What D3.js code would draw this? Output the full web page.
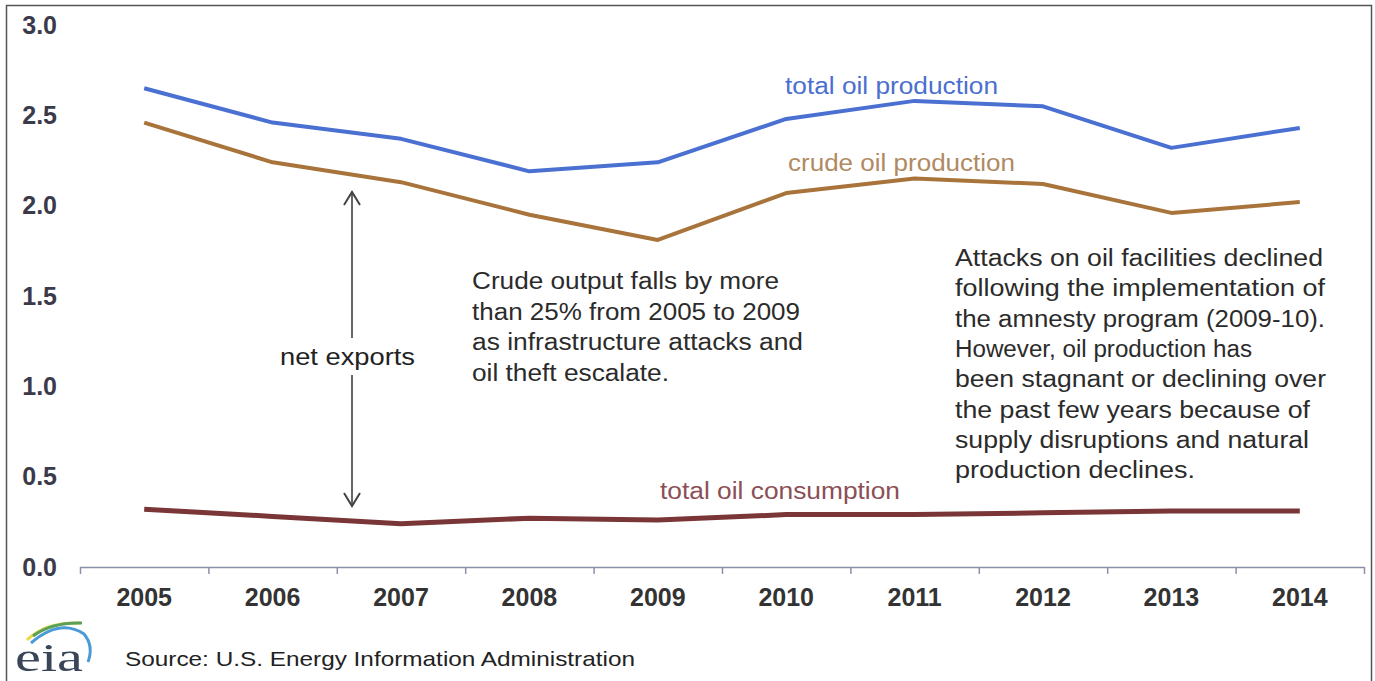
<!DOCTYPE html>
<html><head><meta charset="utf-8">
<script src="https://cdn.jsdelivr.net/npm/d3@7"></script>
<style>
html,body{margin:0;padding:0;background:#fff;}
svg{display:block;font-family:"Liberation Sans",Arial,sans-serif;}
</style></head>
<body>
<svg id="chart" width="1375" height="681"></svg>
<script>
const years = ["2005","2006","2007","2008","2009","2010","2011","2012","2013","2014"];
const totalProduction = [2.65,2.46,2.37,2.19,2.24,2.48,2.58,2.55,2.32,2.43];
const crudeProduction = [2.46,2.24,2.13,1.95,1.81,2.07,2.15,2.12,1.96,2.02];
const totalConsumption = [0.32,0.28,0.24,0.27,0.26,0.29,0.29,0.30,0.31,0.31];
const yTicks = [0,0.5,1.0,1.5,2.0,2.5,3.0];

const svg = d3.select("#chart");
// frame
svg.append("rect").attr("x",6.5).attr("y",5.5).attr("width",1365).attr("height",680)
  .attr("fill","none").attr("stroke","#555").attr("stroke-width",1.5);

const x = d3.scaleBand().domain(years).range([80,1364]);
const xb = d3.scaleLinear().domain([0,years.length]).range([80,1364]);
const y = d3.scaleLinear().domain([0,3]).range([567,25]);

// y axis labels
const ya = svg.append("g").attr("transform","translate(80,0)")
  .call(d3.axisLeft(y).tickValues(yTicks).tickFormat(d3.format(".1f")).tickSize(0).tickPadding(23));
ya.select(".domain").remove();
ya.selectAll("text").attr("font-size",25).attr("font-weight","bold").attr("fill","#3a3a4a")
  .attr("font-family","'Liberation Sans',Arial,sans-serif");

// x axis line + boundary ticks
const xa = svg.append("g").attr("transform","translate(0,567)")
  .call(d3.axisBottom(xb).tickValues(d3.range(0,years.length+1)).tickFormat("").tickSize(7).tickSizeOuter(0));
xa.select(".domain").attr("stroke","#8a90a8").attr("stroke-width",1.5);
xa.selectAll(".tick line").attr("stroke","#8a90a8").attr("stroke-width",1.5);

// x labels
const xl = svg.append("g").attr("transform","translate(0,567)")
  .call(d3.axisBottom(x).tickSize(0).tickPadding(21));
xl.select(".domain").remove();
xl.selectAll("text").attr("font-size",25).attr("font-weight","bold").attr("fill","#333")
  .attr("font-family","'Liberation Sans',Arial,sans-serif");

const line = d3.line().x((d,i)=>x(years[i])+x.bandwidth()/2).y(d=>y(d));
svg.append("path").datum(totalConsumption).attr("d",line).attr("fill","none")
  .attr("stroke","#7a3636").attr("stroke-width",5).attr("stroke-linejoin","round");
svg.append("path").datum(crudeProduction).attr("d",line).attr("fill","none")
  .attr("stroke","#a8743c").attr("stroke-width",4).attr("stroke-linejoin","round");
svg.append("path").datum(totalProduction).attr("d",line).attr("fill","none")
  .attr("stroke","#4a70d2").attr("stroke-width",4).attr("stroke-linejoin","round");

// series labels
function label(t,xx,yy,c,len){
  const e = svg.append("text").attr("x",xx).attr("y",yy).attr("font-size",23).attr("fill",c).text(t);
  if(len) e.attr("textLength",len).attr("lengthAdjust","spacingAndGlyphs");
  return e;
}
label("total oil production",785,94,"#4a6fcf",213);
label("crude oil production",788,171,"#b08a62",227);
label("total oil consumption",660,499,"#8b4f55",240);

// net exports arrow
const ax = 352;
const ar = svg.append("g").attr("stroke","#666").attr("stroke-width",2).attr("fill","none");
ar.append("line").attr("x1",ax).attr("x2",ax).attr("y1",y(crudeProduction[1])+30).attr("y2",338);
ar.append("line").attr("x1",ax).attr("x2",ax).attr("y1",375).attr("y2",y(totalConsumption[1])-11);
ar.append("path").attr("d",`M${ax-8},${205} L${ax},${192} L${ax+8},${205}`).attr("stroke","#444");
ar.append("path").attr("d",`M${ax-8},${493} L${ax},${506} L${ax+8},${493}`).attr("stroke","#444");
label("net exports",280,365,"#222",135);

// annotations
const mid = ["Crude output falls by more","than 25% from 2005 to 2009","as infrastructure attacks and","oil theft escalate."];
const midW = [307,328,331,197];
mid.forEach((t,i)=>label(t,472,289+i*30.5,"#2b2b2b",midW[i]));
const right = ["Attacks on oil facilities declined","following the implementation of","the amnesty program (2009-10).","However, oil production has","been stagnant or declining over","the past few years because of","supply disruptions and natural","production declines."];
const rightW = [368,370,370,297,371,355,354,240];
right.forEach((t,i)=>label(t,955,266+i*30.3,"#2b2b2b",rightW[i]));

// source
label("Source: U.S. Energy Information Administration",125,666,"#222",510).attr("font-size",21);

// eia logo
const logo = svg.append("g");
logo.append("path").attr("d","M27,640 Q45,622 80,623").attr("stroke","#e8d84a").attr("stroke-width",3).attr("fill","none");
logo.append("path").attr("d","M33,636 Q52,622 82,623").attr("stroke","#5aa05a").attr("stroke-width",3).attr("fill","none");
logo.append("path").attr("d","M31,643 Q60,618 84,634 Q94,646 88,662").attr("stroke","#4a9ad6").attr("stroke-width",3).attr("fill","none");
logo.append("text").attr("x",15).attr("y",671).attr("font-family","'Liberation Serif','DejaVu Serif',serif")
  .attr("font-size",40).attr("fill","#3a4658").attr("textLength",68).attr("lengthAdjust","spacingAndGlyphs").text("eia");
</script>
</body></html>
